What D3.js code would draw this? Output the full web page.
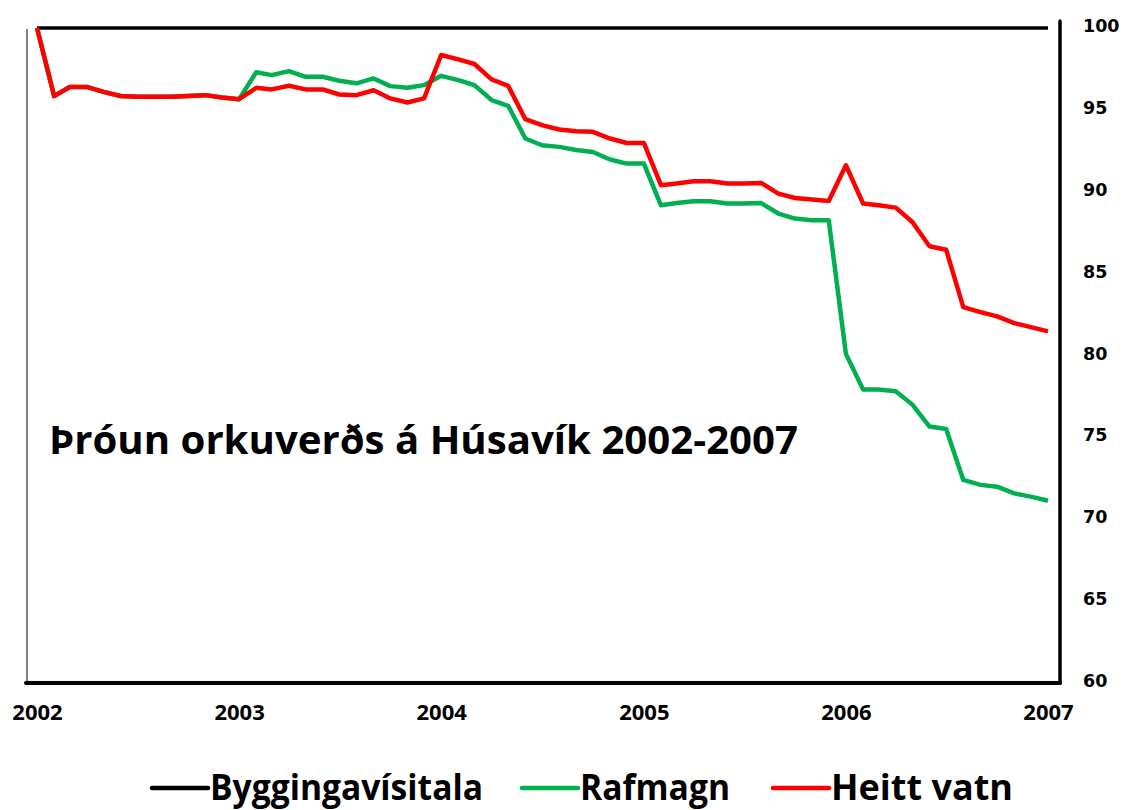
<!DOCTYPE html>
<html>
<head>
<meta charset="utf-8">
<script src="https://cdn.jsdelivr.net/npm/d3@7"></script>
<style>
  html, body { margin: 0; padding: 0; background: #fff; }
  svg { display: block; }
</style>
</head>
<body>
<div id="chart"></div>
<script>
// Monthly index, Jan 2002 .. Jan 2007 (2002-01 = 100)
const months = d3.timeMonth.range(new Date(2002, 0, 1), new Date(2007, 0, 2));
const yearTicks = [2002, 2003, 2004, 2005, 2006, 2007];
const valueTicks = [60, 65, 70, 75, 80, 85, 90, 95, 100];

const byggingavisitala = [
  100, 100, 100, 100, 100, 100, 100, 100, 100, 100, 100, 100,
  100, 100, 100, 100, 100, 100, 100, 100, 100, 100, 100, 100,
  100, 100, 100, 100, 100, 100, 100, 100, 100, 100, 100, 100,
  100, 100, 100, 100, 100, 100, 100, 100, 100, 100, 100, 100,
  100, 100, 100, 100, 100, 100, 100, 100, 100, 100, 100, 100,
  100
];

const rafmagn = [
  100, 95.84, 96.4, 96.4, 96.1, 95.85, 95.8, 95.8, 95.8, 95.85, 95.9, 95.75,
  95.65, 97.3, 97.12, 97.37, 97.02, 97.02, 96.78, 96.62, 96.92, 96.45, 96.35, 96.51,
  97.08, 96.82, 96.51, 95.6, 95.25, 93.25, 92.84, 92.74, 92.55, 92.43, 91.97, 91.72,
  91.72, 89.17, 89.31, 89.42, 89.42, 89.28, 89.28, 89.31, 88.67, 88.36, 88.26, 88.26,
  80.1, 77.92, 77.92, 77.82, 77.0, 75.66, 75.51, 72.4, 72.1, 71.99, 71.58, 71.38,
  71.13
];

const heittVatn = [
  100, 95.84, 96.4, 96.4, 96.1, 95.85, 95.8, 95.8, 95.8, 95.85, 95.9, 95.75,
  95.65, 96.35, 96.25, 96.47, 96.25, 96.25, 95.94, 95.9, 96.2, 95.7, 95.45, 95.7,
  98.35, 98.08, 97.8, 96.86, 96.47, 94.43, 94.07, 93.8, 93.7, 93.66, 93.25, 92.98,
  92.98, 90.4, 90.5, 90.64, 90.64, 90.5, 90.5, 90.54, 89.89, 89.62, 89.52, 89.44,
  91.62, 89.28, 89.17, 89.03, 88.15, 86.67, 86.46, 82.95, 82.65, 82.39, 81.98, 81.73,
  81.47
];

const seriesNames = ['Byggingavísitala', 'Rafmagn', 'Heitt vatn'];
const seriesColors = ['#000000', '#00b050', '#ff0000'];
const title = 'Þróun orkuverðs á Húsavík 2002-2007';

const width = 1129, height = 810;

const svg = d3.select('#chart')
  .append('svg')
  .attr('width', width)
  .attr('height', height);

const x = d3.scaleTime()
  .domain([new Date(2002, 0, 1), new Date(2007, 0, 1)])
  .range([37, 1048]);

const y = d3.scaleLinear()
  .domain([60, 100])
  .range([683, 28]);

// frame: grey left edge, black bottom and right axis
svg.append('line')
  .attr('x1', 27).attr('x2', 27)
  .attr('y1', 29).attr('y2', 683)
  .attr('stroke', '#808080')
  .attr('stroke-width', 2);

svg.append('line')
  .attr('x1', 1060).attr('x2', 1060)
  .attr('y1', 21).attr('y2', 683)
  .attr('stroke', '#000')
  .attr('stroke-width', 3.5)
  .attr('stroke-linecap', 'round');

svg.append('line')
  .attr('x1', 26).attr('x2', 1060)
  .attr('y1', 683).attr('y2', 683)
  .attr('stroke', '#000')
  .attr('stroke-width', 4)
  .attr('stroke-linecap', 'round');

// right value axis labels
const yAxis = d3.axisRight(y)
  .tickValues(valueTicks)
  .tickSize(0)
  .tickPadding(0);

svg.append('g')
  .attr('transform', 'translate(1083,-2)')
  .call(yAxis)
  .call(g => g.select('.domain').remove())
  .selectAll('text')
  .attr('font-family', 'DejaVu Sans')
  .attr('font-weight', 'bold')
  .attr('font-size', 17.5)
  .attr('fill', '#000');

// year labels
const xAxis = d3.axisBottom(x)
  .tickValues(yearTicks.map(yr => new Date(yr, 0, 1)))
  .tickFormat(d3.timeFormat('%Y'))
  .tickSize(0)
  .tickPadding(0);

svg.append('g')
  .attr('transform', 'translate(0,704)')
  .call(xAxis)
  .call(g => g.select('.domain').remove())
  .selectAll('text')
  .attr('font-family', 'Open Sans')
  .attr('font-weight', 'bold')
  .attr('font-size', 22)
  .attr('fill', '#000');

// series lines
const line = d3.line()
  .x((d, i) => x(months[i]))
  .y(d => y(d));

const series = [byggingavisitala, rafmagn, heittVatn];
const widths = [3.5, 4.5, 4.5];

series.forEach((vals, k) => {
  svg.append('path')
    .datum(vals)
    .attr('d', line)
    .attr('fill', 'none')
    .attr('stroke', seriesColors[k])
    .attr('stroke-width', widths[k])
    .attr('stroke-linejoin', 'round');
});

// title inside the plot
svg.append('text')
  .attr('x', 49)
  .attr('y', 454)
  .attr('font-family', 'Open Sans')
  .attr('font-weight', 'bold')
  .attr('font-size', 40)
  .attr('textLength', 749)
  .attr('lengthAdjust', 'spacingAndGlyphs')
  .attr('fill', '#000')
  .text(title);

// legend
const legendX = [152, 522, 773];
const legendW = [273, 150, 182];
const legend = svg.append('g');

seriesNames.forEach((name, k) => {
  legend.append('line')
    .attr('x1', legendX[k]).attr('x2', legendX[k] + 56)
    .attr('y1', 788).attr('y2', 788)
    .attr('stroke', seriesColors[k])
    .attr('stroke-width', 4.5)
    .attr('stroke-linecap', 'round');
  legend.append('text')
    .attr('x', legendX[k] + 58)
    .attr('y', 800)
    .attr('font-family', 'Open Sans')
    .attr('font-weight', 'bold')
    .attr('font-size', 36)
    .attr('textLength', legendW[k])
    .attr('lengthAdjust', 'spacingAndGlyphs')
    .attr('fill', '#000')
    .text(name);
});
</script>
</body>
</html>
